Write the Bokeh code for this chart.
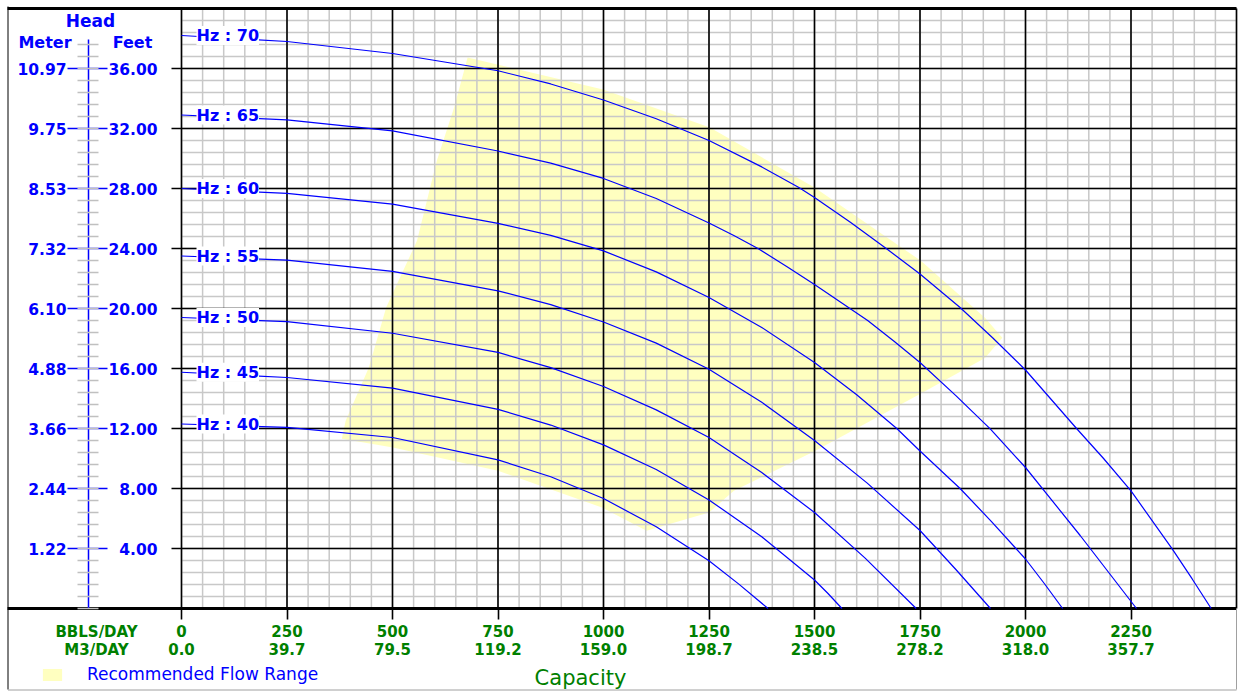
from bokeh.plotting import figure
from bokeh.models import (Range1d, LinearAxis, FixedTicker, ColumnDataSource, LabelSet,
                          Label, Legend, LegendItem, PrintfTickFormatter)
from bokeh.core.properties import value
from bokeh.embed import file_html
from bokeh.resources import INLINE

# ---------------- data ----------------
hz_labels = ["Hz : 70", "Hz : 65", "Hz : 60", "Hz : 55", "Hz : 50", "Hz : 45", "Hz : 40"]

q70 = [0, 250, 500, 750, 875, 1000, 1125, 1250, 1375, 1463, 1500, 1585, 1670, 1750, 1845, 1922,
       2000, 2121, 2185, 2250, 2348, 2395, 2440]
h70 = [38.2, 37.8, 37.0, 35.85, 34.97, 33.9, 32.65, 31.2, 29.44, 28.07, 27.4, 25.75, 24.0, 22.3,
       20.07, 18.05, 15.9, 12.0, 10.0, 7.84, 3.96, 1.97, 0.0]
q65 = [0, 250, 500, 750, 875, 1000, 1125, 1250, 1310, 1366, 1435, 1500, 1626, 1690, 1750, 1835,
       1917, 2000, 2130, 2263]
h65 = [32.9, 32.58, 31.84, 30.5, 29.69, 28.67, 27.33, 25.7, 24.85, 24.0, 22.79, 21.6, 19.2, 17.78,
       16.4, 14.19, 11.96, 9.4, 4.85, 0.0]
q60 = [0, 250, 500, 750, 875, 1000, 1125, 1250, 1375, 1500, 1600, 1695, 1750, 1845, 1920, 2000,
       2045, 2088]
h60 = [28.0, 27.67, 26.96, 25.67, 24.87, 23.84, 22.44, 20.73, 18.74, 16.4, 14.25, 12.0, 10.5, 8.0,
       5.78, 3.3, 1.65, 0.0]
q55 = [0, 250, 500, 750, 875, 1000, 1125, 1250, 1375, 1500, 1625, 1750, 1835, 1917]
h55 = [23.5, 23.22, 22.47, 21.18, 20.26, 19.1, 17.69, 15.95, 13.75, 11.2, 8.36, 5.2, 2.6, 0.0]
q50 = [0, 250, 500, 750, 875, 1000, 1125, 1250, 1375, 1500, 1620, 1741]
h50 = [19.4, 19.13, 18.35, 17.07, 16.06, 14.8, 13.24, 11.4, 9.07, 6.4, 3.36, 0.0]
q45 = [0, 250, 500, 750, 875, 1000, 1125, 1250, 1375, 1500, 1532, 1565]
h45 = [15.75, 15.4, 14.69, 13.27, 12.23, 10.91, 9.27, 7.24, 4.78, 1.9, 1.0, 0.0]
q40 = [0, 250, 500, 750, 875, 1000, 1125, 1250, 1320, 1390]
h40 = [12.3, 12.07, 11.4, 9.91, 8.78, 7.33, 5.45, 3.18, 1.64, 0.0]

# recommended flow range outline (BBLS/DAY, feet)
range_q = [678, 999, 1252, 1501, 1752, 1904, 1945, 1904, 1750, 1501, 1309, 1250, 1102, 998,
           750, 501, 380, 389, 444, 485, 558, 605, 646]
range_h = [36.73, 34.6, 32.07, 28.05, 23.18, 19.38, 18.05, 16.7, 14.3, 10.5, 7.85, 6.4, 5.18, 6.71,
           9.18, 10.73, 11.31, 12.51, 16.07, 20.07, 24.51, 29.85, 33.4]

bbl_ticks = [0, 250, 500, 750, 1000, 1250, 1500, 1750, 2000, 2250]
m3_labels = ["0.0", "39.7", "79.5", "119.2", "159.0", "198.7", "238.5", "278.2", "318.0", "357.7"]
feet_ticks = [4, 8, 12, 16, 20, 24, 28, 32, 36]
meter_labels = ["1.22", "2.44", "3.66", "4.88", "6.10", "7.32", "8.53", "9.75", "10.97"]

# ---------------- layout / style ----------------
W, H = 1238, 692
FL, FR, FT, FB = 181, 1236, 8, 608          # plot area edges in canvas pixels
Q_MAX, H_MAX = 2500, 40
qpp = Q_MAX / (FR - FL)
hpp = H_MAX / (FB - FT)


def qx(px):
    return (px - FL) * qpp


def hy(py):
    return (FB - py) * hpp


BLUE = "#0000ff"
GREEN = "#008000"
FONT = "DejaVu Sans"
GREY = "#c8c8c8"

p = figure(width=W, height=H, x_range=Range1d(qx(0), qx(W)), y_range=Range1d(hy(H), hy(0)),
           x_axis_type=None, y_axis_type=None, toolbar_location=None, output_backend="svg",
           min_border=0, background_fill_color="white", border_fill_color="white",
           outline_line_color=None)

# recommended range (under the grid)
patch_r = p.patch(range_q, range_h, fill_color="#ffffc0", line_color=None)

# grid
xminor = [i * 50 for i in range(51)]
yminor = [round(i * 0.8, 2) for i in range(51)]
p.segment(x0=xminor, y0=[0] * len(xminor), x1=xminor, y1=[H_MAX] * len(xminor),
          line_color=GREY, line_width=1.5)
p.segment(x0=[0] * len(yminor), y0=yminor, x1=[Q_MAX] * len(yminor), y1=yminor,
          line_color=GREY, line_width=1.5)
xmaj = bbl_ticks + [Q_MAX]
p.segment(x0=xmaj, y0=[0] * len(xmaj), x1=xmaj, y1=[H_MAX] * len(xmaj),
          line_color="black", line_width=1.6)
p.segment(x0=[0] * len(feet_ticks), y0=feet_ticks, x1=[Q_MAX] * len(feet_ticks), y1=feet_ticks,
          line_color="black", line_width=1.6)

# frame lines and outer border
p.segment(x0=[qx(7), qx(7)], y0=[H_MAX, 0], x1=[Q_MAX, Q_MAX], y1=[H_MAX, 0],
          line_color="black", line_width=3)
p.segment(x0=[qx(7.5)], y0=[hy(6)], x1=[qx(7.5)], y1=[hy(689)], line_color="black", line_width=1)
p.segment(x0=[qx(7.5)], y0=[hy(689.5)], x1=[qx(1236)], y1=[hy(689.5)], line_color="#a0a0a0",
          line_width=1)
p.segment(x0=[qx(1236)], y0=[0], x1=[qx(1236)], y1=[hy(689)], line_color="#a0a0a0", line_width=1)

# curves
curves = [(q70, h70), (q65, h65), (q60, h60), (q55, h55), (q50, h50), (q45, h45), (q40, h40)]
for q, h in curves:
    p.line(q, h, line_color=BLUE, line_width=1.2)

lab_src = ColumnDataSource(dict(x=[c[0][0] for c in curves], y=[c[1][0] for c in curves],
                                text=hz_labels))
p.add_layout(LabelSet(x="x", y="y", text="text", source=lab_src, x_offset=15,
                      text_baseline="middle", text_align="left", text_font=value(FONT),
                      text_font_style="bold", text_font_size="16px", text_color=BLUE,
                      background_fill_color="white"))

# bottom axis (BBLS/DAY over M3/DAY)
xaxis = LinearAxis(fixed_location=0, ticker=FixedTicker(ticks=bbl_ticks, minor_ticks=[]),
                   major_label_overrides={q: f"{q}\n{m}" for q, m in zip(bbl_ticks, m3_labels)},
                   axis_line_color=None, major_tick_in=0, major_tick_out=11,
                   major_tick_line_color="black", major_tick_line_width=1.6,
                   minor_tick_in=0, minor_tick_out=0, major_label_standoff=3,
                   major_label_text_font=FONT, major_label_text_font_style="bold",
                   major_label_text_font_size="15px", major_label_text_color=GREEN,
                   major_label_text_line_height=1.0)
p.add_layout(xaxis, "below")

# left axes: feet labels next to the plot, meter scale on a blue rule
feet_axis = LinearAxis(fixed_location=0, ticker=FixedTicker(ticks=feet_ticks, minor_ticks=[]),
                       formatter=PrintfTickFormatter(format="%.2f"),
                       axis_line_color=None, major_tick_out=10, major_tick_in=0,
                       major_tick_line_color="black", major_tick_line_width=1.6,
                       minor_tick_in=0, minor_tick_out=0, major_label_standoff=14,
                       major_label_text_font=FONT, major_label_text_font_style="bold",
                       major_label_text_font_size="15.5px", major_label_text_color=BLUE)
p.add_layout(feet_axis, "left")

meter_axis = LinearAxis(fixed_location=qx(88), bounds=(0, hy(39)),
                        ticker=FixedTicker(ticks=feet_ticks, minor_ticks=yminor[:48]),
                        major_label_overrides={f: m for f, m in zip(feet_ticks, meter_labels)},
                        axis_line_color=BLUE, axis_line_width=1.5,
                        major_tick_out=21, major_tick_in=19,
                        major_tick_line_color=BLUE, major_tick_line_width=1.5,
                        minor_tick_out=11, minor_tick_in=10,
                        minor_tick_line_color="#c0c0c0", minor_tick_line_width=1.5,
                        major_label_standoff=1,
                        major_label_text_font=FONT, major_label_text_font_style="bold",
                        major_label_text_font_size="15.5px", major_label_text_color=BLUE)
p.add_layout(meter_axis, "left")

# header texts
hdr = dict(text_baseline="middle", text_align="center", text_font=FONT, text_font_style="bold",
           text_color=BLUE)
p.add_layout(Label(x=qx(90), y=hy(20), text="Head", text_font_size="17px", **hdr))
p.add_layout(Label(x=qx(44.5), y=hy(42), text="Meter", text_font_size="16px", **hdr))
p.add_layout(Label(x=qx(132), y=hy(42), text="Feet", text_font_size="16px", **hdr))

p.add_layout(Label(x=qx(96), y=hy(622), text="BBLS/DAY\nM3/DAY",
                   text_align="center", text_baseline="top", text_line_height=1.0,
                   text_font=FONT, text_font_style="bold", text_font_size="15px",
                   text_color=GREEN))
p.add_layout(Label(x=qx(580), y=hy(677), text="Capacity",
                   text_align="center", text_baseline="middle", text_font=FONT,
                   text_font_size="21px", text_color=GREEN))

legend = Legend(items=[LegendItem(label="Recommended Flow Range", renderers=[patch_r])],
                location=(40, 8), glyph_width=24, glyph_height=15, label_standoff=23,
                padding=0, margin=0, spacing=0, border_line_color=None, background_fill_alpha=0,
                label_text_font=FONT, label_text_font_size="17px", label_text_color=BLUE)
p.add_layout(legend)

open("out.html", "w").write(file_html(p, INLINE))
